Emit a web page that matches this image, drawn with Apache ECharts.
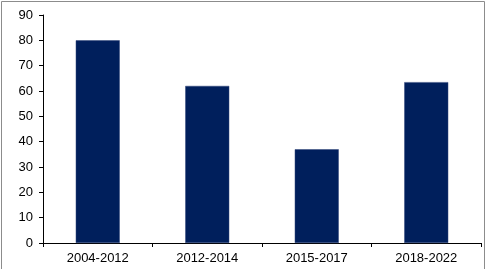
<!DOCTYPE html>
<html><head><meta charset="utf-8">
<script src="https://cdn.jsdelivr.net/npm/echarts@6/dist/echarts.min.js"></script>
<style>html,body{margin:0;padding:0;background:#fff}#c{width:489px;height:269px}</style>
</head><body><div id="c"></div>
<script>
const categories = ["2004-2012", "2012-2014", "2015-2017", "2018-2022"];
const values = [80, 62, 37, 63.5];
const yTicks = [0, 10, 20, 30, 40, 50, 60, 70, 80, 90];

const chart = echarts.init(document.getElementById('c'), null, {renderer: 'canvas'});
chart.setOption({
  animation: false,
  backgroundColor: '#fff',
  grid: {left: 43, right: 8, top: 15, bottom: 26, containLabel: false},
  graphic: [{
    type: 'rect', silent: true,
    shape: {x: 1.5, y: 1.5, width: 483, height: 290},
    style: {fill: null, stroke: '#8c8c8c', lineWidth: 1}
  }],
  xAxis: {
    type: 'category', data: categories,
    axisLine: {lineStyle: {color: '#000', width: 1}},
    axisTick: {show: true, length: 4, lineStyle: {color: '#000'}},
    axisLabel: {color: '#000', fontFamily: 'Liberation Sans, Arial', fontSize: 13, margin: 9}
  },
  yAxis: {
    type: 'value', min: yTicks[0], max: yTicks[yTicks.length - 1], interval: 10,
    axisLine: {show: true, lineStyle: {color: '#000', width: 1}},
    axisTick: {show: true, length: 4, lineStyle: {color: '#000'}},
    splitLine: {show: false},
    axisLabel: {color: '#000', fontFamily: 'Liberation Sans, Arial', fontSize: 13, margin: 10}
  },
  series: [{
    type: 'bar', data: values, barWidth: 44,
    itemStyle: {color: '#001f5c', borderColor: '#33477a', borderWidth: 0.5}
  }]
});
</script></body></html>
